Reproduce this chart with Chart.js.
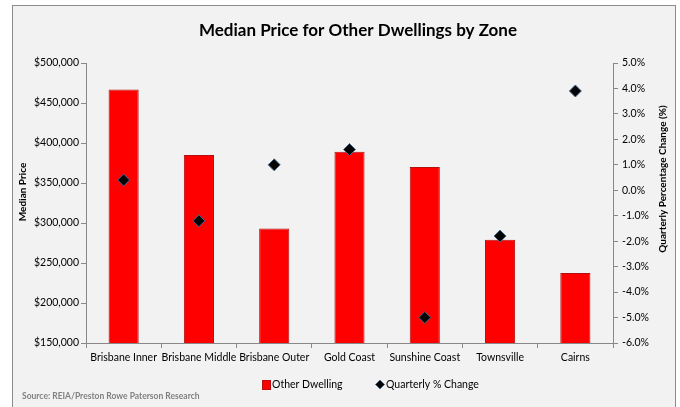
<!DOCTYPE html>
<html>
<head>
<meta charset="utf-8">
<script src="https://cdn.jsdelivr.net/npm/chart.js@4"></script>
<style>
  html, body { margin: 0; padding: 0; background: #ffffff; }
  #wrap { width: 680px; height: 407px; position: relative; }
</style>
</head>
<body>
<div id="wrap"><canvas id="chart" width="680" height="407"></canvas></div>
<script>
// chart data
const zones = ['Brisbane Inner', 'Brisbane Middle', 'Brisbane Outer', 'Gold Coast', 'Sunshine Coast', 'Townsville', 'Cairns'];
const medianPrice = [467000, 385000, 293000, 389000, 370000, 279000, 237500];
const quarterlyChange = [0.4, -1.2, 1.0, 1.6, -5.0, -1.8, 3.9];
const seriesNames = ['Other Dwelling', 'Quarterly % Change'];

const FONT = 'Lato, "DejaVu Sans", sans-serif';

// grey frame + texts that Excel puts outside the plot
const frameAndText = {
    id: 'frameAndText',
    beforeDraw(chart) {
        const ctx = chart.ctx;
        ctx.save();
        ctx.fillStyle = '#ffffff';
        ctx.fillRect(0, 0, chart.width, chart.height);
        ctx.fillStyle = '#f2f2f2';
        ctx.fillRect(12, 5, 664, 410);
        ctx.strokeStyle = '#8c8c8c';
        ctx.lineWidth = 1;
        ctx.strokeRect(12.5, 5.5, 663, 410);
        ctx.restore();
    },
    afterDraw(chart) {
        const ctx = chart.ctx;
        ctx.save();
        ctx.fillStyle = '#000000';
        ctx.textAlign = 'center';
        ctx.textBaseline = 'middle';
        ctx.font = 'bold 17px ' + FONT;
        ctx.fillText('Median Price for Other Dwellings by Zone', 358, 31);

        // axis titles
        ctx.font = 'bold 10px ' + FONT;
        ctx.save();
        ctx.translate(23, 192);
        ctx.rotate(-Math.PI / 2);
        ctx.fillText('Median Price', 0, 0);
        ctx.restore();
        ctx.save();
        ctx.translate(663, 179);
        ctx.rotate(-Math.PI / 2);
        ctx.fillText('Quarterly Percentage Change (%)', 0, 0);
        ctx.restore();

        // legend
        const barDs = chart.data.datasets[1];
        const ptDs = chart.data.datasets[0];
        ctx.fillStyle = barDs.backgroundColor;
        ctx.fillRect(262, 380, 8, 9);
        ctx.strokeStyle = barDs.borderColor;
        ctx.strokeRect(262.5, 380.5, 8, 9);
        ctx.fillStyle = '#000000';
        ctx.textAlign = 'left';
        ctx.font = '10.5px ' + FONT;
        ctx.fillText(barDs.label, 272, 385);
        ctx.beginPath();
        ctx.moveTo(380, 380);
        ctx.lineTo(384.5, 384.5);
        ctx.lineTo(380, 389);
        ctx.lineTo(375.5, 384.5);
        ctx.closePath();
        ctx.fillStyle = ptDs.backgroundColor;
        ctx.fill();
        ctx.strokeStyle = ptDs.borderColor;
        ctx.stroke();
        ctx.fillStyle = '#000000';
        ctx.fillText(ptDs.label, 386, 385);

        // source
        ctx.fillStyle = '#808080';
        ctx.font = 'bold 8.5px ' + FONT;
        ctx.fillText('Source: REIA/Preston Rowe Paterson Research', 22, 396);
        ctx.restore();
    }
};

const ctx = document.getElementById('chart').getContext('2d');
new Chart(ctx, {
    data: {
        labels: zones,
        datasets: [
            {
                type: 'line',
                label: seriesNames[1],
                data: quarterlyChange,
                yAxisID: 'y1',
                showLine: false,
                pointStyle: 'rectRot',
                pointRadius: 6,
                pointHoverRadius: 6,
                backgroundColor: '#050505',
                borderColor: '#4a6890',
                pointBorderWidth: 1,
                order: 0
            },
            {
                type: 'bar',
                label: seriesNames[0],
                data: medianPrice,
                yAxisID: 'y',
                backgroundColor: '#ff0000',
                borderColor: '#b41010',
                borderWidth: 1,
                categoryPercentage: 1,
                barPercentage: 0.4,
                order: 1
            }
        ]
    },
    options: {
        responsive: false,
        devicePixelRatio: 1,
        animation: false,
        layout: { padding: { left: 0, right: 0, top: 63, bottom: 39 } },
        plugins: {
            legend: { display: false },
            title: { display: false },
            tooltip: { enabled: false }
        },
        scales: {
            x: {
                offset: true,
                afterFit(scale) { scale.height = 25; },
                grid: { offset: true, drawOnChartArea: false, tickLength: 5, color: '#888888' },
                border: { color: '#888888' },
                ticks: {
                    color: '#000000',
                    font: { family: FONT, size: 10.5 },
                    padding: 3,
                    maxRotation: 0,
                    autoSkip: false
                }
            },
            y: {
                position: 'left',
                min: 150000,
                max: 500000,
                afterFit(scale) { scale.width = 86; },
                grid: { drawOnChartArea: false, tickLength: 5, color: '#888888' },
                border: { color: '#888888' },
                ticks: {
                    stepSize: 50000,
                    color: '#000000',
                    padding: 2,
                    font: { family: FONT, size: 10.5 },
                    callback: v => '$' + v.toLocaleString('en-US')
                }
            },
            y1: {
                position: 'right',
                min: -6,
                max: 5,
                afterFit(scale) { scale.width = 67; },
                grid: { drawOnChartArea: false, tickLength: 5, color: '#888888' },
                border: { color: '#888888' },
                ticks: {
                    stepSize: 1,
                    color: '#000000',
                    padding: 4,
                    font: { family: FONT, size: 10.5 },
                    callback: v => v.toFixed(1) + '%'
                }
            }
        }
    },
    plugins: [frameAndText]
});
</script>
</body>
</html>
